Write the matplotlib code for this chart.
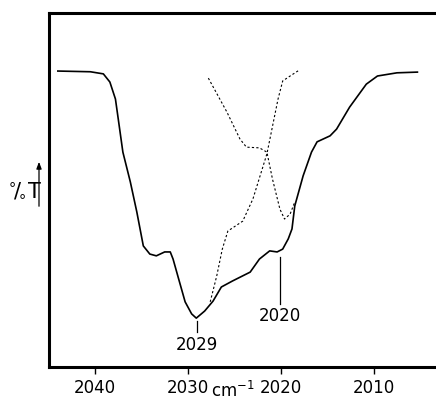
import matplotlib
matplotlib.use("Agg")
import matplotlib.pyplot as plt

# IR spectrum, solid trace (wavenumber cm-1, %T arbitrary scale)
solid_wn = [2044.0, 2040.5, 2039.1, 2038.4, 2037.8, 2037.5, 2037.0, 2036.2, 2035.5,
            2034.8, 2034.1, 2033.4, 2032.5, 2031.9, 2031.6, 2031.0, 2030.3, 2029.6,
            2029.1, 2028.2, 2027.3, 2026.4, 2025.2, 2023.3, 2022.3, 2021.2, 2020.4,
            2019.8, 2019.2, 2018.8, 2018.5, 2017.6, 2016.7, 2016.1, 2014.7, 2014.0,
            2012.6, 2010.8, 2009.6, 2007.5, 2005.3]
solid_t = [83.6, 83.4, 82.8, 80.5, 75.7, 70.1, 60.7, 52.3, 43.8,
           34.2, 31.9, 31.4, 32.5, 32.5, 30.5, 24.9, 18.4, 15.0,
           13.8, 15.8, 18.6, 22.6, 24.3, 26.8, 30.5, 32.8, 32.5,
           33.3, 36.2, 39.0, 45.5, 54.0, 60.7, 63.6, 65.3, 67.2,
           73.4, 79.9, 82.2, 83.1, 83.3]

# dashed trace A (band at 2020)
dashA_wn = [2027.8, 2025.8, 2024.4, 2023.7, 2022.3, 2021.5, 2020.9, 2020.1, 2019.6,
            2019.0, 2018.5]
dashA_t = [81.6, 72.0, 64.4, 62.1, 61.9, 60.7, 53.1, 44.6, 41.8, 43.2, 46.6]

# dashed trace B (band at 2029)
dashB_wn = [2027.6, 2026.9, 2026.3, 2025.7, 2024.1, 2023.0, 2021.5, 2020.3, 2019.8,
            2019.0, 2018.0]
dashB_t = [18.4, 25.7, 33.3, 38.4, 41.2, 47.5, 60.2, 75.7, 80.8, 82.2, 83.9]

peaks = [2029, 2020]
xticks = [2040, 2030, 2020, 2010]

fig = plt.figure(figsize=(4.36, 4.02), dpi=100)
ax = fig.add_axes([0.1124, 0.0846, 0.8876, 0.8806])

ax.plot(solid_wn, solid_t, color="black", lw=1.2, solid_joinstyle="round")
ax.plot(dashA_wn, dashA_t, color="black", lw=0.8, ls=(0, (2, 2)))
ax.plot(dashB_wn, dashB_t, color="black", lw=0.8, ls=(0, (2, 2)))

# peak markers
ax.plot([peaks[0], peaks[0]], [9.9, 13.0], color="black", lw=0.9)
ax.text(peaks[0], 6.5, str(peaks[0]), ha="center", va="center", fontsize=12)
ax.plot([peaks[1] + 0.1, peaks[1] + 0.1], [17.8, 31.1], color="black", lw=0.9)
ax.text(peaks[1] + 0.1, 14.7, str(peaks[1]), ha="center", va="center", fontsize=12)

ax.set_xlim(2044.95, 2003.3)
ax.set_ylim(0, 100)
ax.set_xticks(xticks)
ax.set_xticklabels([str(t) for t in xticks], fontsize=12)
ax.set_yticks([])
ax.tick_params(axis="x", direction="out", length=5, width=1, pad=3)

for s in ["left", "top", "bottom"]:
    ax.spines[s].set_linewidth(2.2)
ax.spines["right"].set_visible(False)

# y label with arrow
fig.text(0.056, 1 - 190 / 402, r"$^{\circ}\!/\!_{\circ}$T", ha="center", va="center",
         fontsize=15)
fig.add_artist(matplotlib.patches.FancyArrowPatch(
    (39 / 436, 1 - 210 / 402), (39 / 436, 1 - 160 / 402),
    transform=fig.transFigure, arrowstyle="-|>,head_length=4,head_width=1.5",
    color="black", lw=0.9))

# x unit below the tick labels
fig.text(233 / 436, 0.003, r"cm$^{-1}$", ha="center", va="bottom", fontsize=12)

fig.savefig("out.png", dpi=100)
